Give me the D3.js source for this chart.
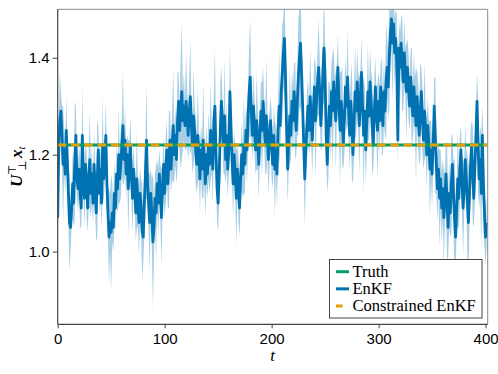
<!DOCTYPE html>
<html>
<head>
<meta charset="utf-8">
<script src="https://cdn.jsdelivr.net/npm/d3@7"></script>
<style>
  html, body { margin: 0; padding: 0; background: #fff; }
  svg { display: block; }
</style>
</head>
<body>
<svg id="chart" width="498" height="374"></svg>
<script>
// ---- data ----
const xTicks = [0, 100, 200, 300, 400];
const yTicks = [1.0, 1.2, 1.4];
const yTickLabels = ["1.0", "1.2", "1.4"];
const legendLabels = ["Truth", "EnKF", "Constrained EnKF"];
const truthValue = 1.22;
const constrainedValue = 1.22;

// EnKF ensemble mean, t = 0..401
const enkfMean = [
1.07,1.22,1.27,1.29,1.24,1.18,1.21,1.16,1.25,1.19,
1.12,1.06,1.05,1.09,1.14,1.10,1.19,1.24,1.15,1.13,
1.17,1.12,1.09,1.24,1.16,1.11,1.18,1.14,1.09,1.15,
1.19,1.12,1.16,1.10,1.18,1.13,1.08,1.15,1.21,1.12,
1.17,1.10,1.22,1.15,1.19,1.24,1.14,1.08,1.03,1.06,
1.04,1.08,1.05,1.12,1.09,1.16,1.13,1.20,1.15,1.18,
1.22,1.26,1.19,1.23,1.16,1.20,1.13,1.18,1.22,1.15,
1.11,1.17,1.13,1.08,1.15,1.10,1.06,1.12,1.09,1.04,
1.03,1.10,1.16,1.23,1.14,1.10,1.06,1.12,1.08,1.02,
1.05,1.11,1.08,1.14,1.10,1.16,1.12,1.07,1.13,1.18,
1.12,1.17,1.21,1.14,1.19,1.23,1.17,1.22,1.26,1.20,
1.24,1.19,1.27,1.31,1.25,1.29,1.33,1.27,1.30,1.26,
1.31,1.28,1.24,1.29,1.32,1.26,1.22,1.28,1.25,1.21,
1.18,1.24,1.20,1.15,1.21,1.17,1.23,1.19,1.14,1.20,
1.16,1.22,1.18,1.25,1.21,1.17,1.27,1.30,1.20,1.13,
1.10,1.16,1.25,1.31,1.27,1.22,1.28,1.19,1.24,1.17,
1.21,1.33,1.26,1.19,1.14,1.20,1.16,1.11,1.17,1.13,
1.09,1.15,1.20,1.16,1.22,1.18,1.25,1.21,1.28,1.33,
1.36,1.29,1.24,1.30,1.26,1.21,1.27,1.23,1.18,1.24,
1.29,1.25,1.31,1.27,1.22,1.28,1.24,1.19,1.23,1.27,
1.22,1.18,1.24,1.17,1.21,1.16,1.25,1.30,1.26,1.33,
1.37,1.41,1.44,1.36,1.25,1.17,1.23,1.28,1.24,1.31,
1.27,1.33,1.29,1.25,1.31,1.36,1.40,1.43,1.37,1.30,
1.22,1.15,1.21,1.26,1.30,1.25,1.32,1.28,1.23,1.29,
1.34,1.27,1.31,1.35,1.38,1.33,1.26,1.31,1.37,1.42,
1.36,1.24,1.18,1.25,1.30,1.26,1.33,1.29,1.35,1.31,
1.27,1.33,1.38,1.30,1.25,1.31,1.28,1.22,1.27,1.34,
1.30,1.36,1.29,1.24,1.31,1.27,1.20,1.26,1.33,1.29,
1.35,1.31,1.26,1.32,1.37,1.30,1.24,1.29,1.21,1.27,
1.33,1.28,1.35,1.31,1.26,1.22,1.29,1.34,1.28,1.25,
1.31,1.27,1.34,1.30,1.26,1.33,1.29,1.35,1.38,1.34,
1.40,1.45,1.48,1.43,1.47,1.41,1.44,1.39,1.23,1.42,
1.38,1.43,1.39,1.35,1.41,1.37,1.33,1.38,1.34,1.30,
1.36,1.32,1.28,1.34,1.30,1.26,1.32,1.28,1.24,1.29,
1.33,1.27,1.23,1.29,1.25,1.20,1.26,1.22,1.17,1.21,
1.16,1.22,1.30,1.24,1.18,1.13,1.17,1.11,1.15,1.09,
1.13,1.07,1.11,1.16,1.10,1.05,1.12,1.08,1.14,1.18,
1.12,1.07,1.03,1.09,1.15,1.11,1.17,1.21,1.14,1.09,
1.13,1.19,1.15,1.10,1.06,1.12,1.18,1.22,1.16,1.11,
1.17,1.24,1.31,1.22,1.15,1.19,1.12,1.24,1.14,1.08,
1.03,1.06
];

// EnKF ensemble spread (half-width of the shaded band), t = 0..401
const enkfSpread = [
.07,.05,.10,.04,.06,.12,.05,.04,.07,.05,
.06,.10,.05,.04,.07,.05,.12,.06,.04,.05,
.05,.07,.04,.10,.05,.06,.04,.07,.05,.06,
.10,.05,.06,.04,.07,.05,.06,.12,.05,.04,
.06,.05,.10,.05,.04,.07,.06,.05,.10,.06,
.12,.06,.05,.07,.04,.06,.05,.10,.05,.07,
.06,.12,.05,.07,.05,.04,.10,.05,.06,.05,
.07,.05,.04,.06,.10,.05,.07,.05,.06,.10,
.05,.07,.06,.12,.05,.06,.10,.05,.07,.14,
.06,.05,.10,.05,.07,.05,.06,.10,.05,.06,
.05,.07,.06,.05,.10,.06,.05,.07,.12,.05,
.06,.05,.10,.06,.05,.12,.14,.06,.07,.05,
.10,.06,.05,.07,.12,.05,.06,.10,.05,.07,
.06,.10,.05,.07,.05,.06,.12,.05,.07,.06,
.05,.07,.06,.10,.05,.07,.06,.12,.05,.07,
.06,.05,.10,.07,.05,.06,.12,.05,.07,.06,
.05,.10,.06,.05,.07,.05,.06,.10,.05,.07,
.06,.05,.07,.05,.10,.06,.05,.07,.06,.10,
.12,.06,.05,.07,.06,.05,.10,.06,.07,.05,
.06,.10,.07,.05,.06,.12,.05,.07,.06,.05,
.07,.05,.06,.10,.05,.07,.06,.12,.05,.07,
.10,.07,.12,.06,.05,.07,.06,.10,.05,.06,
.07,.06,.10,.05,.07,.12,.10,.14,.06,.07,
.06,.10,.05,.07,.06,.05,.10,.06,.07,.05,
.06,.12,.05,.07,.10,.06,.05,.10,.06,.12,
.07,.05,.06,.10,.05,.07,.06,.12,.07,.05,
.10,.06,.07,.05,.12,.06,.10,.05,.07,.06,
.05,.10,.06,.07,.05,.12,.06,.07,.10,.05,
.07,.06,.10,.05,.07,.06,.12,.05,.07,.06,
.10,.05,.07,.06,.10,.05,.07,.06,.05,.10,
.06,.07,.05,.10,.06,.07,.05,.12,.06,.07,
.10,.07,.06,.12,.05,.07,.06,.10,.05,.06,
.07,.05,.10,.06,.07,.05,.10,.06,.07,.05,
.06,.10,.05,.07,.06,.12,.05,.07,.06,.10,
.05,.07,.06,.10,.05,.07,.06,.05,.10,.06,
.07,.05,.06,.12,.06,.07,.05,.10,.06,.07,
.06,.10,.05,.07,.12,.06,.07,.05,.10,.06,
.07,.12,.06,.05,.10,.06,.07,.05,.06,.10,
.05,.07,.06,.10,.12,.06,.07,.05,.10,.06,
.07,.05,.06,.10,.06,.07,.12,.06,.10,.07,
.06,.05
];

// ---- drawing ----
const colors = { truth: "#009E73", enkf: "#0072B2", cons: "#E69F00" };
const svg = d3.select("#chart");
const L = 57.7, R = 487.7, T = 9.3, B = 324.3;

const x = d3.scaleLinear().domain([0, 402]).range([L, R]);
const y = d3.scaleLinear().domain([0.85, 1.5]).range([B, T]);

const ts = enkfMean.map((d, i) => i);
const series = ts.map(i => ({ t: i, m: enkfMean[i], s: enkfSpread[i] }));

svg.append("defs").append("clipPath").attr("id", "clip")
  .append("rect").attr("x", L).attr("y", T).attr("width", R - L).attr("height", B - T);

const g = svg.append("g").attr("clip-path", "url(#clip)");

g.append("path")
  .datum(series)
  .attr("fill", colors.enkf)
  .attr("fill-opacity", 0.35)
  .attr("d", d3.area().x(d => x(d.t)).y0(d => y(d.m - d.s)).y1(d => y(d.m + d.s)));

g.append("path")
  .datum(series)
  .attr("fill", "none")
  .attr("stroke", colors.enkf)
  .attr("stroke-width", 2.8)
  .attr("stroke-linejoin", "round")
  .attr("d", d3.line().x(d => x(d.t)).y(d => y(d.m)));

const tRange = [0, ts[ts.length - 1]];
g.append("line")
  .attr("x1", x(tRange[0])).attr("x2", x(tRange[1]))
  .attr("y1", y(truthValue)).attr("y2", y(truthValue))
  .attr("stroke", colors.truth).attr("stroke-width", 3);

g.append("line")
  .attr("x1", x(tRange[0])).attr("x2", x(tRange[1]))
  .attr("y1", y(constrainedValue)).attr("y2", y(constrainedValue))
  .attr("stroke", colors.cons).attr("stroke-width", 3)
  .attr("stroke-dasharray", "8.5,4.8");

// frame
svg.append("line").attr("x1", L).attr("x2", R).attr("y1", T).attr("y2", T)
  .attr("stroke", "#8a8a8a").attr("stroke-width", 1);
svg.append("line").attr("x1", R).attr("x2", R).attr("y1", T).attr("y2", B)
  .attr("stroke", "#8a8a8a").attr("stroke-width", 1);

// axes
const xAxis = d3.axisBottom(x).tickValues(xTicks).tickSize(4).tickPadding(5).tickFormat(d3.format("d"));
const yAxis = d3.axisLeft(y).tickValues(yTicks).tickSize(5).tickPadding(3).tickFormat((d, i) => yTickLabels[i]);

const gx = svg.append("g").attr("transform", `translate(0,${B})`).call(xAxis);
const gy = svg.append("g").attr("transform", `translate(${L},0)`).call(yAxis);
[gx, gy].forEach(a => {
  a.select(".domain").attr("stroke", "#444").attr("stroke-width", 1.2);
  a.selectAll(".tick line").attr("stroke", "#444");
  a.selectAll(".tick text").attr("fill", "#000")
    .style("font-family", "'Liberation Sans', Arial, sans-serif").style("font-size", "15px");
});
gy.select(".domain").attr("d", `M0,${T}V${B}`);
gx.select(".domain").attr("d", `M${L},0H${R}`);

// axis labels
svg.append("text")
  .attr("x", 272.5).attr("y", 361)
  .attr("text-anchor", "middle")
  .style("font-family", "'Liberation Serif', 'DejaVu Serif', serif")
  .style("font-style", "italic").style("font-size", "17px")
  .text("t");

const yl = svg.append("text")
  .attr("transform", `translate(22,${(T + B) / 2}) rotate(-90)`)
  .attr("text-anchor", "middle")
  .style("font-family", "'Liberation Serif', 'DejaVu Serif', serif")
  .style("font-size", "17px");
yl.append("tspan").style("font-weight", "bold").style("font-style", "italic").text("U");
yl.append("tspan").attr("dy", -6).style("font-size", "11px").text("⊤");
yl.append("tspan").attr("dx", -6).attr("dy", 10).style("font-size", "11px").text("⊥");
yl.append("tspan").attr("dx", 2).attr("dy", -4).style("font-weight", "bold").style("font-style", "italic").text("x");
yl.append("tspan").attr("dy", 3).style("font-size", "11px").style("font-style", "italic").text("t");

// legend
const lg = svg.append("g");
lg.append("rect").attr("x", 329.5).attr("y", 259.5).attr("width", 152.5).attr("height", 58.5)
  .attr("fill", "#fff").attr("stroke", "#444").attr("stroke-width", 1);
const legendItems = [
  { label: legendLabels[0], color: colors.truth, dash: null },
  { label: legendLabels[1], color: colors.enkf, dash: null },
  { label: legendLabels[2], color: colors.cons, dash: "6.5,20" }
];
const rowY = d3.scalePoint().domain(legendLabels).range([271.7, 306]);
legendItems.forEach(it => {
  const cy = rowY(it.label);
  lg.append("line").attr("x1", 336).attr("x2", 349).attr("y1", cy).attr("y2", cy)
    .attr("stroke", it.color).attr("stroke-width", 3)
    .attr("stroke-dasharray", it.dash);
  lg.append("text").attr("x", 352.5).attr("y", cy + 5)
    .style("font-family", "'Liberation Serif', 'DejaVu Serif', serif")
    .style("font-size", "16.5px").attr("fill", "#000")
    .text(it.label);
});
</script>
</body>
</html>
